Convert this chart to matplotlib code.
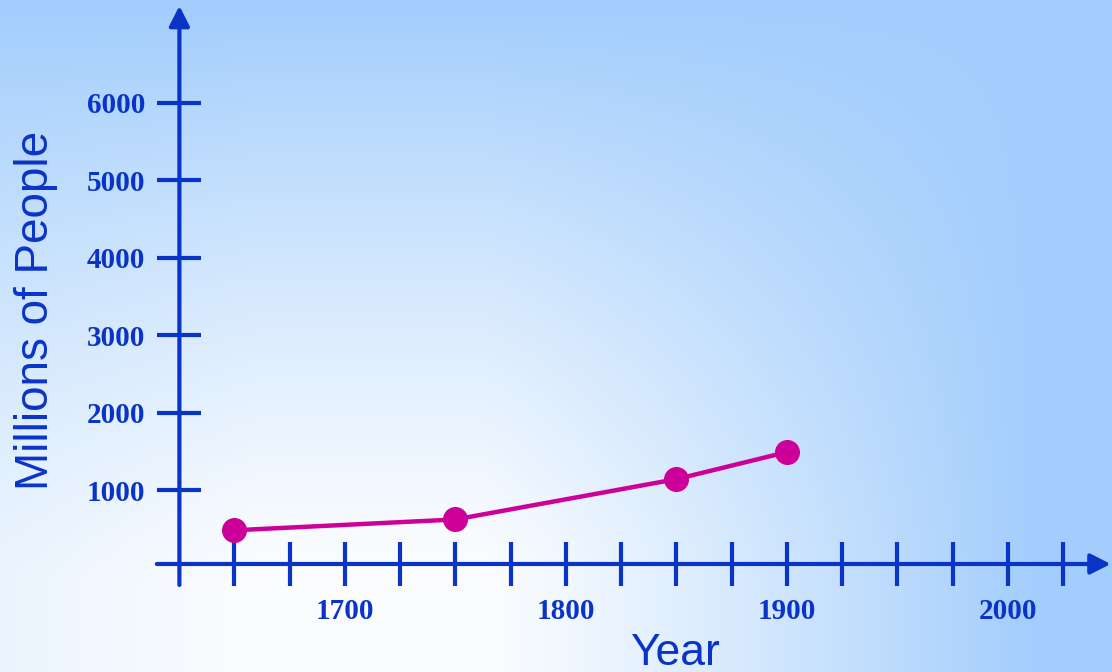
import numpy as np
import matplotlib
matplotlib.use("Agg")
import matplotlib.pyplot as plt

# ---- data ----
years = [1650, 1750, 1850, 1900]
population = [480, 620, 1140, 1490]
xtick_values = list(range(1650, 2026, 25))
xtick_labels = [str(v) if v % 100 == 0 else "" for v in xtick_values]
ytick_values = [1000, 2000, 3000, 4000, 5000, 6000]
ytick_labels = [str(v) for v in ytick_values]
x_label = "Year"
y_label = "Millions of People"

AXIS_COLOR = "#0a34c8"
LINE_COLOR = "#cc0099"

W, H = 1112, 672
fig = plt.figure(figsize=(W / 100, H / 100), dpi=100)

# ---- background gradient ----
bg = fig.add_axes([0, 0, 1, 1], zorder=-10)
yy, xx = np.mgrid[0:H, 0:W].astype(float)
fv = np.clip(1 - yy / 580.0, 0, 1) ** 1.25
fh = np.clip((xx - 480) / 560.0, 0, 1) ** 1.15
fl = np.clip((260 - xx) / 260.0, 0, 1) * 0.18
f = 1 - (1 - fv) * (1 - fh) * (1 - fl)
f = 0.04 + 0.96 * f
white = np.array([1.0, 1.0, 1.0])
blue = np.array([162, 205, 252]) / 255.0
img = white[None, None, :] * (1 - f[..., None]) + blue[None, None, :] * f[..., None]
bg.imshow(img, aspect="auto", extent=[0, 1, 0, 1], origin="upper")
bg.set_axis_off()

# ---- main axes ----
left_px, right_px, top_px, bottom_px = 150, 1112, 0, 600
ax = fig.add_axes([left_px / W, (H - bottom_px) / H,
                   (right_px - left_px) / W, (bottom_px - top_px) / H])
ax.patch.set_alpha(0)
ax.set_xlim(1611.8, 2047.1)
ax.set_ylim(-420, 7326)

yaxis_x = 1625.1
xaxis_y = 45

for s in ["top", "right", "left", "bottom"]:
    ax.spines[s].set_visible(False)
ax.spines["left"].set_position(("data", yaxis_x))
ax.spines["bottom"].set_position(("data", xaxis_y))

arrow_kw = dict(arrowstyle="-|>,head_length=0.55,head_width=0.28",
                color=AXIS_COLOR, lw=3, shrinkA=0, shrinkB=0,
                mutation_scale=22)
ax.annotate("", xy=(yaxis_x, 7250), xytext=(yaxis_x, -226),
            arrowprops=arrow_kw, annotation_clip=False)
ax.annotate("", xy=(2046.5, xaxis_y), xytext=(1614.9, xaxis_y),
            arrowprops=arrow_kw, annotation_clip=False)

ax.set_xticks(xtick_values)
ax.set_xticklabels(xtick_labels)
ax.set_yticks(ytick_values)
ax.set_yticklabels(ytick_labels)
ax.tick_params(axis="both", direction="inout", length=31.5, width=3,
               color=AXIS_COLOR, labelcolor=AXIS_COLOR, pad=9,
               labelsize=21)
for lab in ax.get_xticklabels() + ax.get_yticklabels():
    lab.set_fontfamily("Liberation Serif")
    lab.set_fontweight("bold")

ax.plot(years, population, color=LINE_COLOR, lw=3.2, marker="o",
        markersize=17, zorder=5, clip_on=False)

fig.text(36 / W, 1 - 310 / H, y_label, rotation=90, ha="center", va="center",
         fontsize=33, color=AXIS_COLOR, family="Liberation Sans")
fig.text(675 / W, 1 - 665 / H, x_label, ha="center", va="baseline",
         fontsize=32, color=AXIS_COLOR, family="Liberation Sans")

fig.savefig("out.png", dpi=100)
